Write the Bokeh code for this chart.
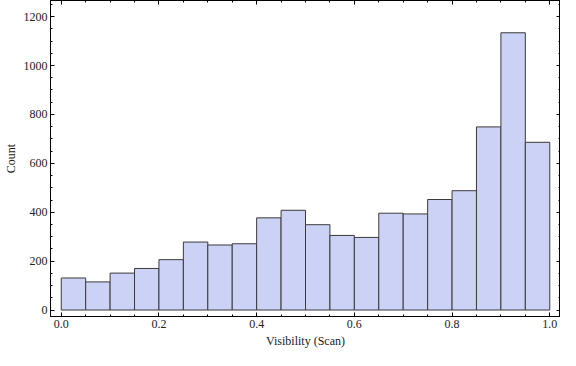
from bokeh.plotting import figure
from bokeh.models import (Range1d, LinearAxis, SingleIntervalTicker, ColumnDataSource,
                          NumeralTickFormatter, CustomJSTickFormatter)
from bokeh.embed import file_html
from bokeh.resources import INLINE

bin_left = [0.00, 0.05, 0.10, 0.15, 0.20, 0.25, 0.30, 0.35, 0.40, 0.45,
            0.50, 0.55, 0.60, 0.65, 0.70, 0.75, 0.80, 0.85, 0.90, 0.95]
bin_right = [0.05, 0.10, 0.15, 0.20, 0.25, 0.30, 0.35, 0.40, 0.45, 0.50,
             0.55, 0.60, 0.65, 0.70, 0.75, 0.80, 0.85, 0.90, 0.95, 1.00]
counts = [131, 115, 151, 170, 206, 278, 266, 271, 377, 408,
          349, 305, 297, 396, 393, 452, 488, 749, 1134, 686]

x_label = "Visibility (Scan)"
y_label = "Count"

src = ColumnDataSource(dict(left=bin_left, right=bin_right, top=counts,
                            bottom=[0] * len(counts)))

p = figure(width=560, height=350, output_backend="svg", toolbar_location=None,
           x_range=Range1d(-0.022, 1.022), y_range=Range1d(-26.5, 1266),
           min_border_left=0, min_border_right=0, min_border_top=0,
           min_border_bottom=0, x_axis_location=None, y_axis_location=None)
p.grid.visible = False
p.outline_line_color = "black"
p.background_fill_color = "white"
p.border_fill_color = "white"

p.quad(left="left", right="right", top="top", bottom="bottom", source=src,
       fill_color="#CCD2F5", line_color="#3a3a3a", line_width=1)

FONT = "Liberation Serif"
blank = CustomJSTickFormatter(code="return '';")

def style(ax, labels=True):
    ax.axis_line_color = "black"
    ax.major_tick_in = 4
    ax.major_tick_out = 0
    ax.minor_tick_in = 2
    ax.minor_tick_out = 0
    ax.major_tick_line_color = "black"
    ax.minor_tick_line_color = "black"
    ax.major_label_text_font = FONT
    ax.major_label_text_font_size = "12px"
    ax.major_label_text_color = "#222222"
    ax.major_label_standoff = 3 if labels else 0
    ax.axis_label_text_font = FONT
    ax.axis_label_text_font_size = "12px"
    ax.axis_label_text_font_style = "normal"
    ax.axis_label_text_color = "#222222"

xb = LinearAxis(ticker=SingleIntervalTicker(interval=0.2, num_minor_ticks=4),
                formatter=NumeralTickFormatter(format="0.0"),
                axis_label=x_label)
style(xb)
xb.axis_label_standoff = 3
p.add_layout(xb, "below")

xt = LinearAxis(ticker=SingleIntervalTicker(interval=0.2, num_minor_ticks=4),
                formatter=blank)
style(xt, labels=False)
p.add_layout(xt, "above")

yl = LinearAxis(ticker=SingleIntervalTicker(interval=200, num_minor_ticks=4),
                axis_label=y_label)
style(yl)
yl.axis_label_standoff = 3
p.add_layout(yl, "left")

yr = LinearAxis(ticker=SingleIntervalTicker(interval=200, num_minor_ticks=4),
                formatter=blank)
style(yr, labels=False)
p.add_layout(yr, "right")

open("out.html", "w").write(file_html(p, INLINE))
